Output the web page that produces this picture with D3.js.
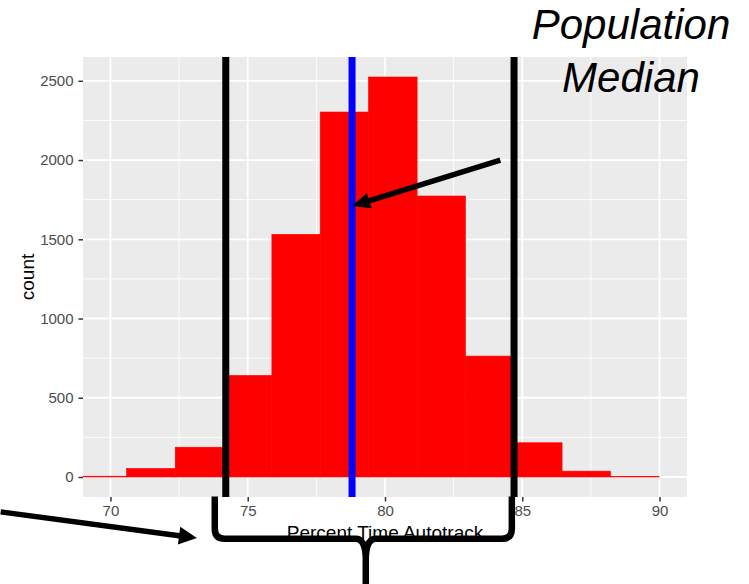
<!DOCTYPE html>
<html>
<head>
<meta charset="utf-8">
<script src="https://cdn.jsdelivr.net/npm/d3@7"></script>
<style>
  body { margin: 0; background: #fff; }
  text { font-family: "Liberation Sans", Arial, sans-serif; }
</style>
</head>
<body>
<div id="chart"></div>
<script>
// histogram bins (Percent Time Autotrack) and counts
var binEdges = [68.83, 70.59, 72.36, 74.12, 75.88, 77.64, 79.40, 81.17, 82.93, 84.69, 86.45, 88.21, 89.98];
var counts   = [5, 54, 188, 641, 1531, 2303, 2524, 1773, 763, 216, 37, 4];

var xTicks = [70, 75, 80, 85, 90];
var yTicks = [0, 500, 1000, 1500, 2000, 2500];
var xMinor = [72.5, 77.5, 82.5, 87.5];
var yMinor = [250, 750, 1250, 1750, 2250];

// reference lines
var lowerBound = 74.2;
var upperBound = 84.7;
var popMedian  = 78.8;

// annotation anchors, in data units
var medianArrow = { from: [84.2, 2000], to: [popMedian, 1710] };
var leftArrow   = { from: [66.0, -220], to: [73.15, -385] };
var brace       = { left: 73.8, right: 84.62, mid: 79.3, top: -123, bar: -390, tip: -700 };

var W = 749, H = 584,
    pLeft = 83, pTop = 57, pRight = 687, pBottom = 497;

var x = d3.scaleLinear().domain([69, 91]).range([pLeft, pRight]);
var yMax = d3.max(counts);
var y = d3.scaleLinear().domain([-0.05 * yMax, 1.05 * yMax]).range([pBottom, pTop]);

var svg = d3.select("#chart").append("svg")
    .attr("width", W)
    .attr("height", H);

svg.append("clipPath").attr("id", "panel")
  .append("rect")
    .attr("x", pLeft).attr("y", pTop)
    .attr("width", pRight - pLeft).attr("height", pBottom - pTop);

svg.append("rect")
    .attr("x", pLeft).attr("y", pTop)
    .attr("width", pRight - pLeft).attr("height", pBottom - pTop)
    .style("fill", "#EBEBEB");

var grid = svg.append("g").attr("clip-path", "url(#panel)");

grid.selectAll(".xminor").data(xMinor).enter().append("line")
    .attr("x1", d => x(d)).attr("x2", d => x(d))
    .attr("y1", pTop).attr("y2", pBottom)
    .style("stroke", "#fff").style("stroke-width", 0.9);
grid.selectAll(".yminor").data(yMinor).enter().append("line")
    .attr("y1", d => y(d)).attr("y2", d => y(d))
    .attr("x1", pLeft).attr("x2", pRight)
    .style("stroke", "#fff").style("stroke-width", 0.9);
grid.selectAll(".xmajor").data(xTicks).enter().append("line")
    .attr("x1", d => x(d)).attr("x2", d => x(d))
    .attr("y1", pTop).attr("y2", pBottom)
    .style("stroke", "#fff").style("stroke-width", 1.8);
grid.selectAll(".ymajor").data(yTicks).enter().append("line")
    .attr("y1", d => y(d)).attr("y2", d => y(d))
    .attr("x1", pLeft).attr("x2", pRight)
    .style("stroke", "#fff").style("stroke-width", 1.8);

// bars
grid.selectAll(".bar").data(counts).enter().append("rect")
    .attr("x", (d, i) => x(binEdges[i]))
    .attr("width", (d, i) => x(binEdges[i + 1]) - x(binEdges[i]))
    .attr("y", d => y(d))
    .attr("height", d => y(0) - y(d))
    .style("fill", "#FF0000")
    .style("stroke", "#FF0000")
    .style("stroke-width", 0.6);

// vertical lines
grid.selectAll(".bound").data([lowerBound, upperBound]).enter().append("line")
    .attr("x1", d => x(d)).attr("x2", d => x(d))
    .attr("y1", pTop).attr("y2", pBottom)
    .style("stroke", "#000").style("stroke-width", 7);
grid.append("line")
    .attr("x1", x(popMedian)).attr("x2", x(popMedian))
    .attr("y1", pTop).attr("y2", pBottom)
    .style("stroke", "#0000FF").style("stroke-width", 7);

// axes
var yAxis = svg.append("g")
    .attr("transform", "translate(" + pLeft + ",0)")
    .call(d3.axisLeft(y).tickValues(yTicks).tickFormat(d3.format("d")).tickSize(4.5).tickPadding(5));
var xAxis = svg.append("g")
    .attr("transform", "translate(0," + pBottom + ")")
    .call(d3.axisBottom(x).tickValues(xTicks).tickFormat(d3.format("d")).tickSize(4.5).tickPadding(4));

[xAxis, yAxis].forEach(function(a) {
  a.select(".domain").remove();
  a.selectAll(".tick line").style("stroke", "#333").style("stroke-width", 1.5);
  a.selectAll(".tick text")
    .style("fill", "#4D4D4D")
    .style("font-size", "15px")
    .style("font-family", "'Liberation Sans', Arial, sans-serif");
});

svg.append("text")
    .attr("transform", "translate(33.5," + ((pTop + pBottom) / 2) + ") rotate(-90)")
    .attr("text-anchor", "middle")
    .style("font-size", "19px")
    .text("count");

svg.append("text")
    .attr("x", (pLeft + pRight) / 2)
    .attr("y", 539)
    .attr("text-anchor", "middle")
    .style("font-size", "19px")
    .text("Percent Time Autotrack");

// annotation text
var note = svg.append("text")
    .attr("text-anchor", "middle")
    .style("font-size", "42px")
    .style("font-style", "italic");
note.append("tspan").attr("x", 631).attr("y", 38.5).text("Population");
note.append("tspan").attr("x", 631).attr("y", 91.5).text("Median");

function arrow(a, width, headLen, headW) {
  var x0 = x(a.from[0]), y0 = y(a.from[1]),
      x1 = x(a.to[0]),   y1 = y(a.to[1]);
  var dx = x1 - x0, dy = y1 - y0, len = Math.sqrt(dx * dx + dy * dy);
  var ux = dx / len, uy = dy / len;
  var bx = x1 - ux * headLen, by = y1 - uy * headLen;
  svg.append("line")
      .attr("x1", x0).attr("y1", y0)
      .attr("x2", bx + ux * 2).attr("y2", by + uy * 2)
      .style("stroke", "#000").style("stroke-width", width);
  svg.append("path")
      .attr("d", "M" + x1 + "," + y1 +
                 "L" + (bx - uy * headW / 2) + "," + (by + ux * headW / 2) +
                 "L" + (bx + uy * headW / 2) + "," + (by - ux * headW / 2) + "Z")
      .style("fill", "#000");
}

arrow(medianArrow, 5.5, 18, 16);
arrow(leftArrow, 5.5, 18, 18);

// curly brace under the interval
var bl = x(brace.left), br = x(brace.right), bm = x(brace.mid),
    bt = y(brace.top), bb = y(brace.bar), btip = y(brace.tip), r = 10;
var bracePath =
  "M" + bl + "," + bt + "V" + (bb - r) + "Q" + bl + "," + bb + " " + (bl + r) + "," + bb +
  "H" + (bm - r) + "Q" + (bm - 1) + "," + bb + " " + bm + "," + (bb + r * 1.8) + "V" + btip +
  "M" + br + "," + bt + "V" + (bb - r) + "Q" + br + "," + bb + " " + (br - r) + "," + bb +
  "H" + (bm + r) + "Q" + (bm + 1) + "," + bb + " " + bm + "," + (bb + r * 1.8);
svg.append("path")
    .attr("d", bracePath)
    .style("fill", "none")
    .style("stroke", "#000")
    .style("stroke-width", 6.5);
</script>
</body>
</html>
